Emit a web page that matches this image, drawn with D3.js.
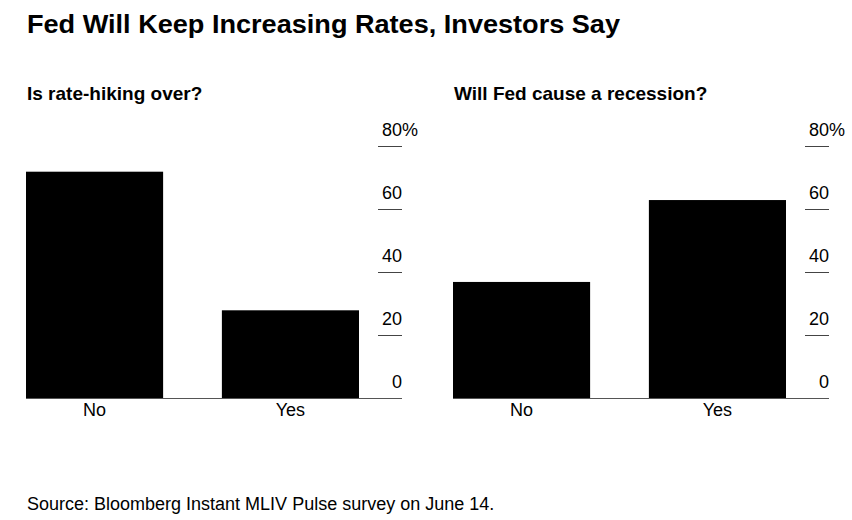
<!DOCTYPE html>
<html>
<head>
<meta charset="utf-8">
<script src="https://cdn.jsdelivr.net/npm/d3@7"></script>
<style>
  html, body { margin: 0; padding: 0; background: #fff; }
  svg { display: block; }
</style>
</head>
<body>
<svg id="chart" width="852" height="520"></svg>
<script>
// ---- data ----
const title = "Fed Will Keep Increasing Rates, Investors Say";
const source = "Source: Bloomberg Instant MLIV Pulse survey on June 14.";
const categories = ["No", "Yes"];
const panelTitles = ["Is rate-hiking over?", "Will Fed cause a recession?"];
const rateHikingOver = [72, 28];
const fedRecession = [37, 63];
const yTicks = [0, 20, 40, 60, 80];
const yTickLabels = ["0", "20", "40", "60", "80"];

const panels = [
  { title: panelTitles[0], values: rateHikingOver, x0: 26, x1: 359, axisEnd: 402 },
  { title: panelTitles[1], values: fedRecession, x0: 453, x1: 786, axisEnd: 829 }
];

const svg = d3.select("#chart");
const FONT = "'Liberation Sans', Arial, Helvetica, sans-serif";

svg.append("text")
  .attr("x", 27).attr("y", 33)
  .attr("font-family", FONT).attr("font-weight", "bold")
  .attr("font-size", 25.5).attr("fill", "#000")
  .attr("textLength", 593).attr("lengthAdjust", "spacingAndGlyphs")
  .text(title);

svg.append("text")
  .attr("x", 27).attr("y", 510)
  .attr("font-family", FONT).attr("font-size", 18).attr("fill", "#000")
  .text(source);

const y = d3.scaleLinear().domain([0, 80]).range([398.5, 146.5]);

panels.forEach(p => {
  const g = svg.append("g");
  g.append("text")
    .attr("x", p.x0 + 1).attr("y", 100)
    .attr("font-family", FONT).attr("font-weight", "bold")
    .attr("font-size", 19).attr("fill", "#000")
    .text(p.title);

  const x = d3.scaleBand().domain(categories).range([p.x0, p.x1])
    .paddingInner(0.3).paddingOuter(0);

  g.selectAll("rect.bar").data(p.values).join("rect")
    .attr("class", "bar")
    .attr("x", (d, i) => x(categories[i]))
    .attr("width", x.bandwidth())
    .attr("y", d => y(d))
    .attr("height", d => y(0) - y(d))
    .attr("fill", "#000");

  // baseline
  g.append("line")
    .attr("x1", p.x0).attr("x2", p.axisEnd)
    .attr("y1", y(0)).attr("y2", y(0))
    .attr("stroke", "#555").attr("stroke-width", 1);

  // y ticks (right side)
  yTicks.forEach((t, i) => {
    if (t > 0) {
      g.append("line")
        .attr("x1", p.axisEnd - 24).attr("x2", p.axisEnd)
        .attr("y1", y(t)).attr("y2", y(t))
        .attr("stroke", "#444").attr("stroke-width", 1);
    }
    g.append("text")
      .attr("x", p.axisEnd).attr("y", y(t) - 10.5)
      .attr("font-family", FONT).attr("font-size", 18)
      .attr("fill", "#000").attr("text-anchor", "end")
      .text(yTickLabels[i]);
    if (i === yTicks.length - 1) {
      g.append("text")
        .attr("x", p.axisEnd).attr("y", y(t) - 10.5)
        .attr("font-family", FONT).attr("font-size", 18)
        .attr("fill", "#000").attr("text-anchor", "start")
        .text("%");
    }
  });

  // x labels
  g.selectAll("text.cat").data(categories).join("text")
    .attr("class", "cat")
    .attr("x", d => x(d) + x.bandwidth() / 2)
    .attr("y", 415.5)
    .attr("font-family", FONT).attr("font-size", 18)
    .attr("fill", "#000").attr("text-anchor", "middle")
    .text(d => d);
});
</script>
</body>
</html>
